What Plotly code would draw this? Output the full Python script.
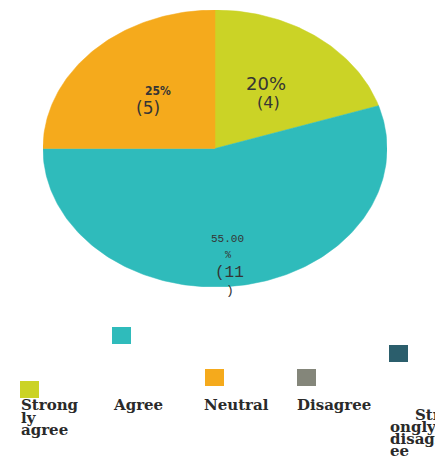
import math
import plotly.graph_objects as go

# ---------------- data ----------------
categories = ["Strongly agree", "Agree", "Neutral", "Disagree", "Strongly disagree"]
counts = [4, 11, 5, 0, 0]
legend_text = ["Strong<br>ly<br>agree", "Agree", "Neutral", "Disagree", "Str<br>ongly<br>disagr<br>ee"]

# ---------------- style ----------------
colors = ["#CBD326", "#2FBBBB", "#F5AA1C", "#84867A", "#2B5E6C"]
WIN_W, WIN_H = 443, 462
OFF = 8  # default page body margin
W, H = WIN_W - OFF, WIN_H - OFF
PIE_BOX = (43, 10, 387, 287)  # left, top, right, bottom in window px
TEXT_COL = "#353535"

def px(x):
    return (x - OFF) / W

def py(y):
    return 1 - (y - OFF) / H

fig = go.Figure()

total = sum(counts)
start = 0.0
for cat, cnt, col in zip(categories, counts, colors):
    frac = cnt / total
    a0, a1 = start, start + frac * 2 * math.pi
    start = a1
    if cnt == 0:
        continue
    n = max(int(frac * 360), 4)
    xs, ys = [0.0], [0.0]
    for i in range(n + 1):
        t = a0 + (a1 - a0) * i / n
        xs.append(math.sin(t))
        ys.append(math.cos(t))
    xs.append(0.0)
    ys.append(0.0)
    fig.add_trace(go.Scatter(
        x=xs, y=ys, mode="lines", fill="toself", fillcolor=col,
        line=dict(color=col, width=0.5), name=cat, hoverinfo="name",
        showlegend=False,
    ))

# ---------------- slice labels ----------------
pct = [c / total * 100 for c in counts]
slice_label_styles = {
    0: dict(lines=[f"{pct[0]:.0f}%", f"({counts[0]})"], x=[266, 268], y=[83, 102],
            size=[18, 16], family=["DejaVu Sans", "DejaVu Sans"]),
    2: dict(lines=[f"<b>{pct[2]:.0f}%</b>", f"({counts[2]})"], x=[158, 148], y=[91, 108],
            size=[12, 17], family=["DejaVu Sans Condensed", "DejaVu Sans"]),
    1: dict(lines=[f"{pct[1]:.2f}", "%", f"({counts[1]}", ")"], x=[227, 228, 229, 230],
            y=[239, 255, 273, 290], size=[11, 10, 16, 13],
            family=["Liberation Mono"] * 4),
}
annotations = []
for idx, st in slice_label_styles.items():
    if counts[idx] == 0:
        continue
    for line, lx, ly, fs, ff in zip(st["lines"], st["x"], st["y"], st["size"], st["family"]):
        annotations.append(dict(
            text=line, x=px(lx), y=py(ly), xref="paper", yref="paper",
            xanchor="center", yanchor="middle", showarrow=False, borderpad=0,
            font=dict(family=ff, size=fs, color=TEXT_COL),
        ))

# ---------------- scattered legend ----------------
legend_square = [(20, 381), (112, 327), (205, 369), (297, 369), (389, 345)]
legend_text_pos = [  # per-line left x, first line centre y, line step
    dict(x=[20, 20, 20], y=405, step=12.5),
    dict(x=[112], y=405, step=12.5),
    dict(x=[203], y=405, step=12.5),
    dict(x=[296], y=405, step=12.5),
    dict(x=[414, 389, 389, 389], y=415, step=12),
]
shapes = []
for col, (sx, sy), lbl, tp in zip(colors, legend_square, legend_text, legend_text_pos):
    shapes.append(dict(type="rect", xref="paper", yref="paper",
                       x0=px(sx), x1=px(sx + 19), y0=py(sy), y1=py(sy + 17),
                       fillcolor=col, line=dict(width=0)))
    for i, line in enumerate(lbl.split("<br>")):
        annotations.append(dict(
            text=f"<b>{line}</b>", x=px(tp["x"][i]), y=py(tp["y"] + i * tp["step"]),
            xref="paper", yref="paper", xanchor="left", yanchor="middle",
            showarrow=False, borderpad=0,
            font=dict(family="DejaVu Serif", size=15, color="#2a2a2a"),
        ))

l, t, r, b = PIE_BOX
fig.update_layout(
    width=W, height=H, margin=dict(l=0, r=0, t=0, b=0),
    paper_bgcolor="white", plot_bgcolor="rgba(0,0,0,0)",
    showlegend=False,
    xaxis=dict(domain=[px(l), px(r)], range=[-1, 1], visible=False, fixedrange=True),
    yaxis=dict(domain=[py(b), py(t)], range=[-1, 1], visible=False, fixedrange=True),
    shapes=shapes, annotations=annotations,
)

fig.write_html("out.html")
